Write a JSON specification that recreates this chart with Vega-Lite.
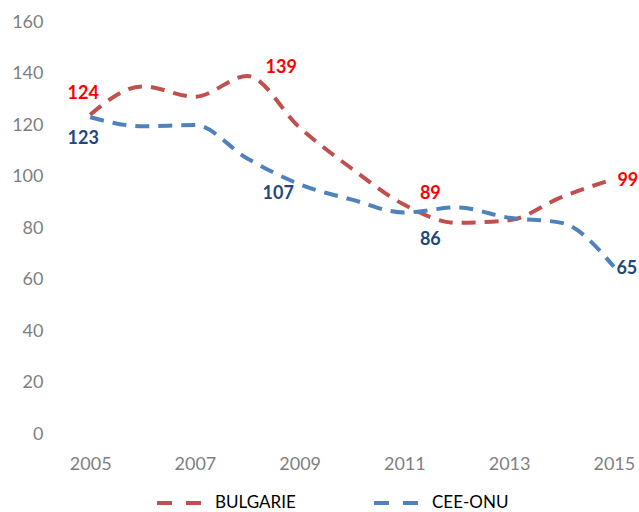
{
  "$schema": "https://vega.github.io/schema/vega-lite/v6.json",
  "width": 576,
  "height": 412,
  "autosize": {"type": "none"},
  "padding": {"left": 64, "top": 22, "right": 0, "bottom": 78},
  "background": "white",
  "config": {
    "view": {"stroke": null},
    "font": "Lato",
    "axis": {"grid": false, "domain": false, "ticks": false, "labelFont": "Lato", "labelFontSize": 18, "labelColor": "#7F7F7F", "title": null}
  },
  "data": {
    "values": [
      {"year": 2005, "series": "BULGARIE", "value": 124},
      {"year": 2006, "series": "BULGARIE", "value": 135},
      {"year": 2007, "series": "BULGARIE", "value": 131},
      {"year": 2008, "series": "BULGARIE", "value": 139},
      {"year": 2009, "series": "BULGARIE", "value": 119},
      {"year": 2010, "series": "BULGARIE", "value": 103},
      {"year": 2011, "series": "BULGARIE", "value": 89},
      {"year": 2012, "series": "BULGARIE", "value": 82},
      {"year": 2013, "series": "BULGARIE", "value": 83},
      {"year": 2014, "series": "BULGARIE", "value": 92},
      {"year": 2015, "series": "BULGARIE", "value": 99},
      {"year": 2005, "series": "CEE-ONU", "value": 123},
      {"year": 2006, "series": "CEE-ONU", "value": 119.5},
      {"year": 2007, "series": "CEE-ONU", "value": 120},
      {"year": 2008, "series": "CEE-ONU", "value": 107},
      {"year": 2009, "series": "CEE-ONU", "value": 97},
      {"year": 2010, "series": "CEE-ONU", "value": 91},
      {"year": 2011, "series": "CEE-ONU", "value": 86},
      {"year": 2012, "series": "CEE-ONU", "value": 88},
      {"year": 2013, "series": "CEE-ONU", "value": 84},
      {"year": 2014, "series": "CEE-ONU", "value": 82},
      {"year": 2015, "series": "CEE-ONU", "value": 65}
    ]
  },
  "encoding": {
    "x": {"field": "year", "type": "quantitative", "scale": {"domain": [2004.5, 2015.5], "nice": false, "zero": false},
          "axis": {"values": [2005, 2007, 2009, 2011, 2013, 2015], "format": "d", "labelPadding": 21}},
    "y": {"field": "value", "type": "quantitative", "scale": {"domain": [0, 160], "nice": false},
          "axis": {"values": [0, 20, 40, 60, 80, 100, 120, 140, 160], "labelPadding": 21}}
  },
  "layer": [
    {
      "mark": {"type": "line", "interpolate": "monotone", "strokeWidth": 4, "strokeDash": [14, 9]},
      "encoding": {
        "color": {"field": "series", "type": "nominal",
          "scale": {"domain": ["BULGARIE", "CEE-ONU"], "range": ["#C0504D", "#4F81BD"]},
          "legend": {"title": null, "orient": "none", "legendX": 91, "legendY": 471, "direction": "horizontal", "padding": 0,
            "clipHeight": 20,
            "symbolType": "stroke", "symbolSize": 2025, "symbolStrokeWidth": 4, "symbolDash": [15, 14],
            "labelFont": "Lato", "labelFontSize": 17, "labelColor": "#000000", "labelOffset": 11, "columnPadding": 76}}
      }
    },
    {"transform": [{"filter": "datum.series == 'BULGARIE' && datum.year == 2005"}],
     "mark": {"type": "text", "fontWeight": "bold", "fontSize": 18, "color": "#FF0000", "dx": -7, "dy": -21},
     "encoding": {"text": {"field": "value", "type": "quantitative"}}},
    {"transform": [{"filter": "datum.series == 'CEE-ONU' && datum.year == 2005"}],
     "mark": {"type": "text", "fontWeight": "bold", "fontSize": 18, "color": "#1F497D", "dx": -7, "dy": 22},
     "encoding": {"text": {"field": "value", "type": "quantitative"}}},
    {"transform": [{"filter": "datum.series == 'BULGARIE' && datum.year == 2008"}],
     "mark": {"type": "text", "fontWeight": "bold", "fontSize": 18, "color": "#FF0000", "dx": 34, "dy": -8},
     "encoding": {"text": {"field": "value", "type": "quantitative"}}},
    {"transform": [{"filter": "datum.series == 'CEE-ONU' && datum.year == 2008"}],
     "mark": {"type": "text", "fontWeight": "bold", "fontSize": 18, "color": "#1F497D", "dx": 31, "dy": 36},
     "encoding": {"text": {"field": "value", "type": "quantitative"}}},
    {"transform": [{"filter": "datum.series == 'BULGARIE' && datum.year == 2011"}],
     "mark": {"type": "text", "fontWeight": "bold", "fontSize": 18, "color": "#FF0000", "dx": 26, "dy": -11},
     "encoding": {"text": {"field": "value", "type": "quantitative"}}},
    {"transform": [{"filter": "datum.series == 'CEE-ONU' && datum.year == 2011"}],
     "mark": {"type": "text", "fontWeight": "bold", "fontSize": 18, "color": "#1F497D", "dx": 26, "dy": 27},
     "encoding": {"text": {"field": "value", "type": "quantitative"}}},
    {"transform": [{"filter": "datum.series == 'BULGARIE' && datum.year == 2015"}],
     "mark": {"type": "text", "fontWeight": "bold", "fontSize": 18, "color": "#FF0000", "dx": 14, "dy": 2},
     "encoding": {"text": {"field": "value", "type": "quantitative"}}},
    {"transform": [{"filter": "datum.series == 'CEE-ONU' && datum.year == 2015"}],
     "mark": {"type": "text", "fontWeight": "bold", "fontSize": 18, "color": "#1F497D", "dx": 13, "dy": 2},
     "encoding": {"text": {"field": "value", "type": "quantitative"}}}
  ]
}
